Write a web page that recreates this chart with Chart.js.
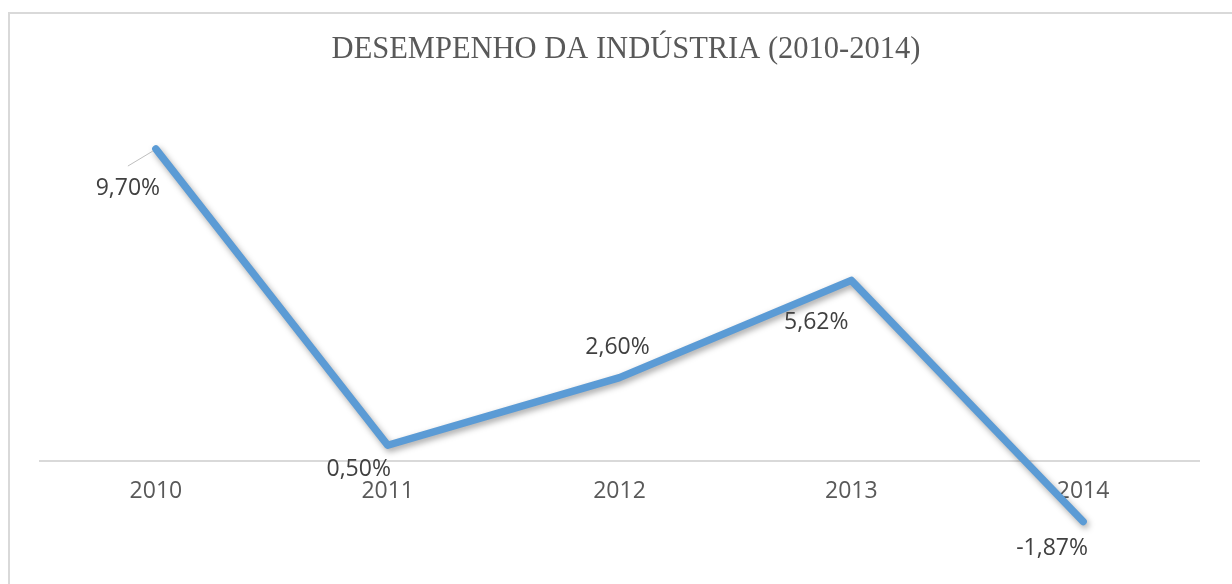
<!DOCTYPE html>
<html>
<head>
<meta charset="utf-8">
<script src="https://cdn.jsdelivr.net/npm/chart.js"></script>
<style>
  html, body { margin: 0; padding: 0; background: #fff; }
  #wrap { width: 1232px; height: 584px; position: relative; }
</style>
</head>
<body>
<div id="wrap"><canvas id="c" width="1232" height="584"></canvas></div>
<script>
const categories = ['2010', '2011', '2012', '2013', '2014'];
const values = [9.70, 0.50, 2.60, 5.62, -1.87];
const valueLabels = ['9,70%', '0,50%', '2,60%', '5,62%', '-1,87%'];
const chartTitle = 'DESEMPENHO DA INDÚSTRIA (2010-2014)';

const labelOffsets = [[-28, 39], [-29, 24], [-2, -30], [-35, 42], [-31, 27]];

const framePlugin = {
  id: 'frame',
  beforeDraw(chart) {
    const ctx = chart.ctx;
    ctx.save();
    ctx.fillStyle = '#ffffff';
    ctx.fillRect(0, 0, chart.width, chart.height);
    ctx.strokeStyle = '#d9d9d9';
    ctx.lineWidth = 2;
    ctx.beginPath();
    ctx.moveTo(9, chart.height);
    ctx.lineTo(9, 13);
    ctx.lineTo(chart.width, 13);
    ctx.stroke();
    // title
    ctx.fillStyle = '#595959';
    ctx.font = '30.5px "Liberation Serif", "Times New Roman", serif';
    ctx.textAlign = 'center';
    ctx.textBaseline = 'middle';
    ctx.fillText(chartTitle, 626, 50);
    ctx.restore();
  }
};

const shadowPlugin = {
  id: 'lineShadow',
  beforeDatasetDraw(chart) {
    const ctx = chart.ctx;
    ctx.save();
    ctx.shadowColor = 'rgba(0,0,0,0.35)';
    ctx.shadowBlur = 6;
    ctx.shadowOffsetX = 2;
    ctx.shadowOffsetY = 3;
  },
  afterDatasetDraw(chart) {
    chart.ctx.restore();
  }
};

const labelPlugin = {
  id: 'valueLabels',
  afterDatasetsDraw(chart) {
    const ctx = chart.ctx;
    const meta = chart.getDatasetMeta(0);
    ctx.save();
    ctx.font = '23px "Open Sans"';
    ctx.fillStyle = '#404040';
    ctx.textAlign = 'center';
    ctx.textBaseline = 'middle';
    meta.data.forEach((pt, i) => {
      const off = labelOffsets[i];
      ctx.fillText(valueLabels[i], pt.x + off[0], pt.y + off[1]);
    });
    // leader line for first label
    const p0 = meta.data[0];
    ctx.strokeStyle = '#bfbfbf';
    ctx.lineWidth = 1;
    ctx.beginPath();
    ctx.moveTo(p0.x - 28, p0.y + 17);
    ctx.lineTo(p0.x - 3, p0.y + 2);
    ctx.stroke();
    ctx.restore();
  }
};

new Chart(document.getElementById('c'), {
  type: 'line',
  data: {
    labels: categories,
    datasets: [{
      data: values,
      borderColor: '#5b9bd5',
      borderWidth: 7.5,
      borderJoinStyle: 'round',
      borderCapStyle: 'round',
      tension: 0,
      pointRadius: 0,
      pointHoverRadius: 0,
      fill: false
    }]
  },
  options: {
    responsive: false,
    animation: false,
    events: [],
    layout: { padding: { left: 40, right: 33, top: 75, bottom: 10 } },
    plugins: {
      legend: { display: false },
      tooltip: { enabled: false },
      title: { display: false }
    },
    scales: {
      x: {
        offset: true,
        position: { y: 0 },
        grid: { display: false, drawTicks: false },
        border: { display: true, color: '#d9d9d9', width: 2 },
        ticks: {
          color: '#595959',
          font: { family: '"Open Sans"', size: 23 },
          padding: 16,
          maxRotation: 0
        }
      },
      y: {
        display: false,
        min: -3.5,
        max: 12
      }
    }
  },
  plugins: [framePlugin, shadowPlugin, labelPlugin]
});
</script>
</body>
</html>
